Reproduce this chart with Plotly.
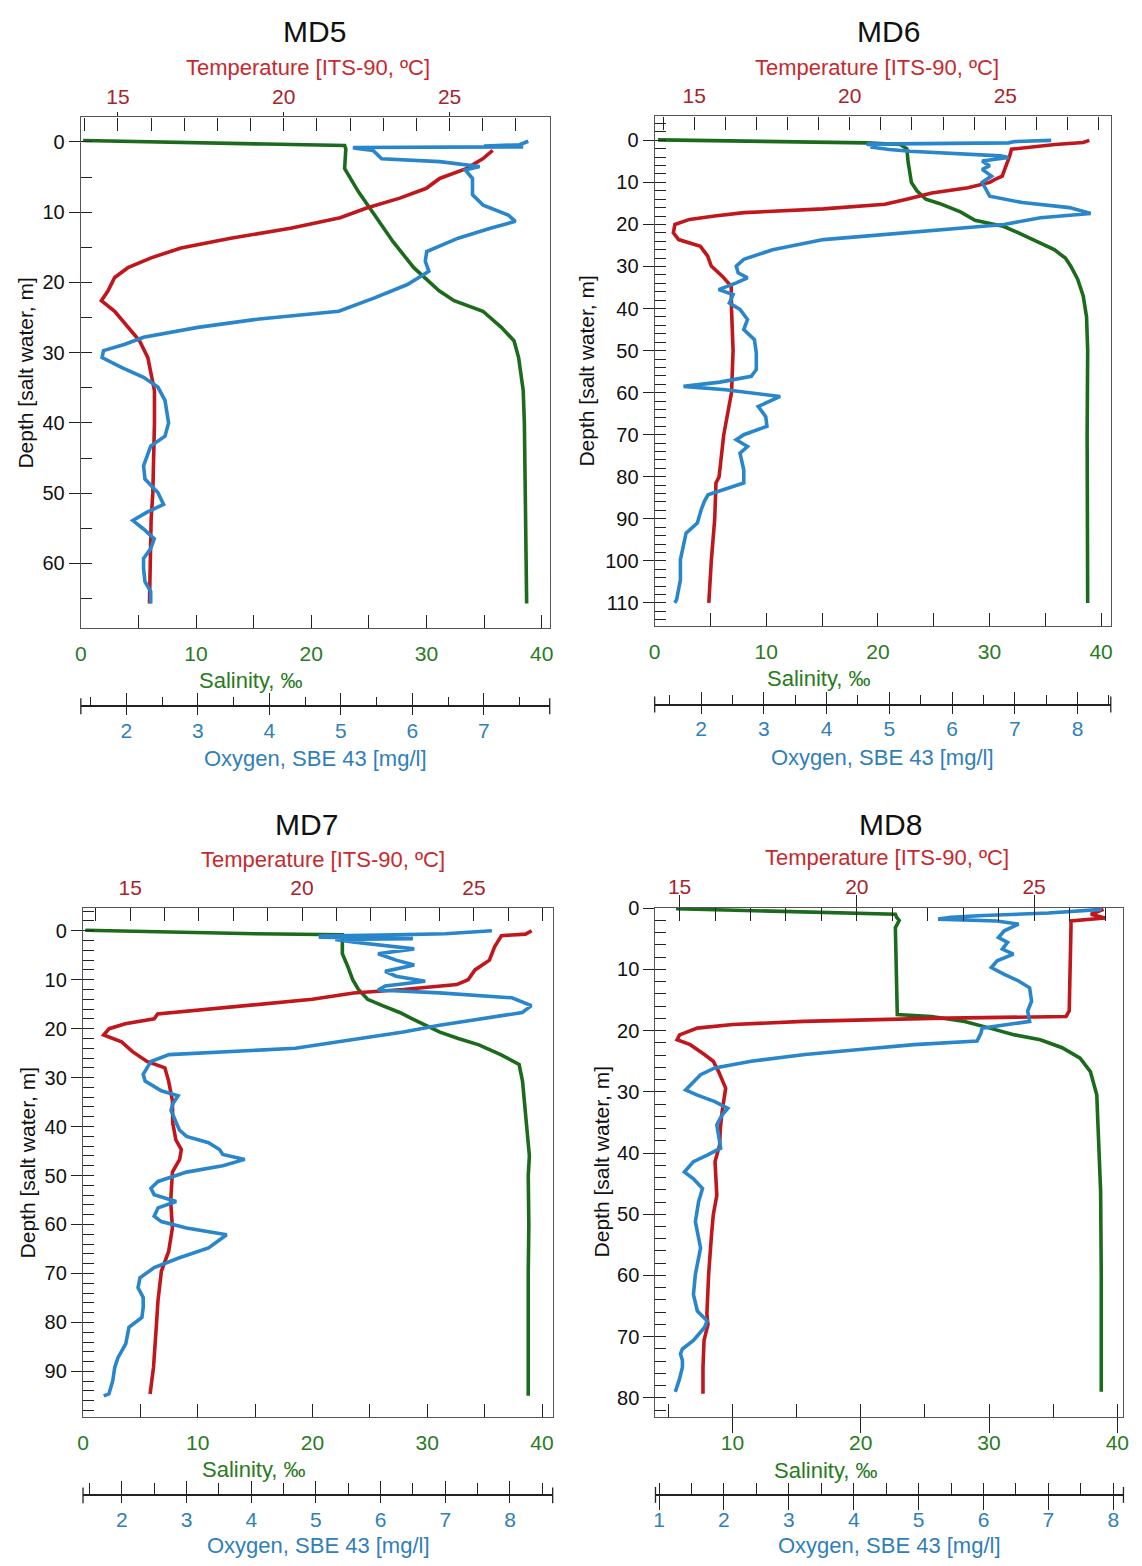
import plotly.graph_objects as go

# page is 1142x1566; the browser adds an 8px body margin, so the figure is 16px smaller
PAGE_W, PAGE_H, OFF = 1142, 1566, 8
W, H = PAGE_W - 2 * OFF, PAGE_H - 2 * OFF

# ---------------- DATA ----------------
STATIONS = ["MD5", "MD6", "MD7", "MD8"]

MD5_TEMP_DEPTH = [1.2, 2.4, 3.8, 5.2, 6.6, 8.0, 9.4, 10.8, 12.3, 13.7, 15.1, 16.5, 17.9, 19.3, 21.2, 22.6,
                  24.1, 26.4, 28.3, 30.7, 33.0, 35.4, 40.0, 50.0, 53.7, 60.0, 65.7]
MD5_TEMP = [26.3, 26.0, 25.5, 24.7, 24.3, 23.5, 22.5, 21.7, 20.2, 18.4, 16.9, 16.0, 15.3, 14.9, 14.7, 14.5,
            14.9, 15.3, 15.65, 15.9, 16.0, 16.1, 16.1, 16.05, 16.0, 15.98, 15.95]
MD5_SAL_DEPTH = [-0.2, 0.1, 0.3, 0.5, 1.0, 3.8, 7.1, 10.4, 14.2, 17.9, 21.2, 22.6, 24.1, 26.4, 28.3, 30.7,
                 35.4, 40.0, 50.0, 60.0, 65.7]
MD5_SAL = [0.2, 8.0, 16.0, 22.9, 23.0, 22.9, 24.1, 25.5, 27.1, 28.9, 31.1, 32.4, 34.9, 36.5, 37.6, 38.0,
           38.4, 38.5, 38.6, 38.65, 38.7]
MD5_OXY_DEPTH = [-0.1, 0.4, 0.6, 0.7, 0.8, 0.9, 1.2, 2.4, 2.8, 3.5, 4.0, 5.2, 7.5, 9.0, 10.4, 11.3, 12.3,
                 13.7, 15.6, 17.0, 18.4, 20.3, 22.2, 24.1, 25.2, 26.4, 27.8, 28.8, 29.7, 30.7, 32.1, 33.5,
                 34.9, 36.8, 40.0, 41.9, 43.3, 46.1, 48.0, 49.9, 51.6, 52.7, 53.9, 55.1, 56.5, 57.9, 59.3,
                 60.7, 62.6, 64.0, 65.7]
MD5_OXY = [7.62, 7.5, 7.0, 7.55, 5.17, 5.2, 5.45, 5.57, 6.38, 6.94, 6.74, 6.84, 6.84, 6.99, 7.34, 7.44, 7.09,
           6.64, 6.2, 6.18, 6.23, 5.93, 5.47, 4.97, 3.86, 3.0, 2.24, 1.98, 1.68, 1.66, 1.93, 2.24,
           2.44, 2.54, 2.59, 2.54, 2.34, 2.24, 2.26, 2.44, 2.52, 2.29, 2.09, 2.24, 2.39, 2.34, 2.24,
           2.24, 2.26, 2.34, 2.34]

MD6_TEMP_DEPTH = [0.0, 0.5, 1.0, 2.1, 3.7, 6.9, 8.5, 9.3, 10.0, 11.3, 12.5, 14.0, 15.2, 16.3, 16.7, 17.2,
                  18.0, 18.8, 20.0, 22.0, 23.6, 25.2, 27.5, 29.9, 32.3, 34.7, 40.2, 50.0, 60.0, 68.0,
                  70.0, 80.0, 81.5, 90.0, 100.0, 110.0]
MD6_TEMP = [27.7, 27.5, 26.6, 25.2, 25.14, 25.0, 24.9, 24.67, 24.5, 23.8, 22.64, 21.83, 21.13, 19.15, 18.0,
            16.6, 15.66, 14.85, 14.38, 14.33, 14.5, 15.2, 15.43, 15.55, 15.9, 16.19, 16.2, 16.25, 16.2, 16.0,
            15.95, 15.8, 15.7, 15.66, 15.55, 15.47]
MD6_SAL_DEPTH = [-0.1, 0.3, 0.6, 1.0, 2.0, 5.0, 8.0, 10.0, 12.0, 14.0, 15.0, 17.0, 19.0, 20.5, 22.0, 24.0,
                 26.0, 28.0, 30.0, 33.0, 37.0, 42.0, 50.0, 70.0, 90.0, 110.0]
MD6_SAL = [0.3, 10.0, 19.0, 22.0, 22.6, 22.7, 22.9, 23.0, 23.5, 24.3, 25.5, 27.4, 28.7, 31.3, 32.6, 34.2,
           35.8, 36.8, 37.3, 37.9, 38.4, 38.7, 38.8, 38.75, 38.8, 38.8]
MD6_OXY_DEPTH = [0.0, 0.3, 0.6, 0.9, 1.3, 1.6, 2.2, 2.6, 3.7, 4.1, 4.9, 6.1, 6.9, 8.5, 10.0, 11.7, 13.3,
                 14.8, 16.0, 17.4, 18.4, 20.0, 22.0, 23.6, 26.0, 28.3, 29.9, 31.5, 32.7, 33.9, 35.5, 36.7,
                 38.7, 40.2, 42.6, 45.0, 47.4, 50.6, 54.5, 56.1, 57.5, 58.1, 58.5, 59.3, 60.9, 63.3, 65.7,
                 68.0, 70.0, 71.2, 72.8, 74.4, 78.4, 81.5, 83.1, 84.3, 85.9, 87.9, 91.0, 93.4, 99.7, 104.5,
                 109.2, 110.0]
MD6_OXY = [7.58, 7.0, 6.9, 4.64, 4.8, 4.7, 5.0, 5.33, 6.77, 6.9, 6.48, 6.6, 6.48, 6.63, 6.48, 6.54, 6.6,
           7.12, 7.87, 8.21, 7.41, 6.83, 5.22, 3.95, 3.14, 2.68, 2.56, 2.59, 2.74, 2.56, 2.28, 2.51,
           2.45, 2.62, 2.74, 2.68, 2.85, 2.88, 2.88, 2.8, 2.3, 1.87, 1.72, 2.39, 3.26, 2.91, 3.03,
           3.05, 2.68, 2.56, 2.74, 2.62, 2.68, 2.68, 2.33, 2.11, 2.05, 2.0, 1.94, 1.76, 1.67, 1.67,
           1.61, 1.58]

MD7_TEMP_DEPTH = [0.0, 0.7, 1.0, 2.0, 3.3, 6.0, 8.0, 10.0, 11.0, 12.0, 12.7, 14.0, 15.0, 16.0, 17.0, 18.0,
                  19.0, 20.0, 21.3, 22.7, 24.7, 26.7, 28.0, 30.7, 34.7, 39.3, 42.7, 44.7, 46.7, 49.3, 55.3,
                  60.7, 65.5, 69.5, 75.6, 81.0, 89.2, 94.6]
MD7_TEMP = [26.68, 26.5, 25.8, 25.7, 25.6, 25.45, 25.03, 24.83, 24.5, 22.95, 21.5, 20.3, 18.75, 17.3, 15.8,
            15.7, 14.86, 14.39, 14.23, 14.75, 15.07, 15.49, 16.01, 16.12, 16.23, 16.24, 16.33, 16.49, 16.44,
            16.23, 16.18, 16.23, 16.12, 15.91, 15.81, 15.76, 15.68, 15.58]
MD7_SAL_DEPTH = [-0.1, 0.3, 0.6, 0.8, 1.3, 4.7, 7.3, 10.0, 12.0, 14.0, 15.3, 16.7, 18.0, 19.3, 20.7, 22.0,
                 23.3, 25.3, 27.3, 30.7, 39.3, 46.0, 50.0, 60.0, 70.0, 80.0, 95.0]
MD7_SAL = [0.2, 8.0, 15.0, 22.6, 22.6, 22.6, 23.07, 23.5, 24.0, 24.8, 26.1, 27.6, 28.7, 29.8, 31.1, 32.7,
           34.5, 36.4, 38.0, 38.3, 38.6, 38.9, 38.8, 38.85, 38.8, 38.8, 38.8]
MD7_OXY_DEPTH = [0.0, 0.6, 0.9, 1.1, 1.3, 1.6, 1.8, 2.3, 3.7, 4.7, 6.0, 7.0, 8.3, 9.3, 10.3, 11.3, 12.1,
                 12.7, 13.7, 15.3, 16.7, 18.0, 19.3, 20.7, 22.3, 24.0, 25.3, 26.7, 28.0, 29.3, 30.7, 32.7,
                 33.7, 35.3, 36.7, 39.3, 40.7, 42.0, 43.3, 44.7, 45.7, 46.7, 48.0, 49.3, 51.2, 52.6, 53.9,
                 55.3, 56.6, 58.3, 59.4, 60.7, 62.1, 64.8, 66.8, 68.8, 70.9, 72.9, 74.9, 77.0, 79.0, 81.0,
                 84.4, 87.2, 89.2, 91.9, 94.6, 95.0]
MD7_OXY = [7.72, 7.0, 6.0, 5.07, 5.07, 6.5, 5.3, 5.57, 6.52, 5.96, 6.24, 6.52, 6.07, 6.24, 6.69, 6.07, 5.96,
           6.91, 8.03, 8.33, 8.19, 7.58, 6.91, 6.35, 5.52, 4.68, 2.73, 2.45, 2.39, 2.33, 2.36, 2.61,
           2.87, 2.79, 2.76, 2.84, 2.89, 3.0, 3.34, 3.51, 3.56, 3.9, 3.56, 3.0, 2.56, 2.45, 2.5,
           2.84, 2.56, 2.5, 2.61, 3.0, 3.62, 3.34, 2.89, 2.5, 2.28, 2.25, 2.33, 2.33, 2.31, 2.11,
           2.06, 1.94, 1.89, 1.86, 1.8, 1.72]

MD8_TEMP_DEPTH = [0.2, 1.0, 1.6, 2.1, 3.2, 8.6, 14.1, 16.8, 17.7, 18.0, 18.5, 19.0, 19.6, 20.7, 21.5, 22.3,
                  23.9, 25.0, 26.7, 29.4, 33.2, 36.0, 38.7, 41.4, 46.9, 50.1, 53.4, 59.8, 66.3, 68.0, 70.6,
                  75.0, 79.3]
MD8_TEMP = [26.96, 26.6, 27.0, 26.04, 26.04, 26.02, 26.01, 25.99, 25.9, 22.1, 18.5, 16.5, 15.5, 15.0, 14.93,
            15.3, 15.7, 15.95, 16.1, 16.3, 16.2, 16.15, 16.13, 16.0, 16.05, 15.95, 15.9, 15.82, 15.77, 15.8,
            15.69, 15.66, 15.66]
MD8_SAL_DEPTH = [0.1, 0.5, 0.8, 1.0, 1.5, 2.0, 3.2, 8.6, 14.1, 17.4, 17.7, 18.5, 19.6, 20.7, 21.5, 22.8,
                 24.5, 26.7, 30.5, 36.0, 46.3, 60.0, 79.0]
MD8_SAL = [5.6, 14.0, 20.0, 22.7, 22.8, 23.0, 22.7, 22.76, 22.76, 22.85, 25.5, 28.1, 30.06, 32.0, 34.0, 35.7,
           37.1, 37.9, 38.4, 38.5, 38.7, 38.75, 38.75]
MD8_OXY_DEPTH = [0.2, 0.8, 1.2, 1.5, 1.8, 2.0, 2.1, 2.6, 3.7, 4.8, 5.6, 6.7, 7.5, 8.6, 9.7, 10.8, 11.9,
                 13.0, 15.2, 16.8, 18.5, 19.6, 20.4, 21.7, 22.3, 23.1, 23.9, 25.0, 26.1, 27.2, 28.3, 29.7,
                 30.5, 31.6, 32.7, 33.8, 35.4, 37.0, 39.2, 40.3, 41.4, 43.1, 44.2, 45.8, 47.9, 51.2, 55.5,
                 59.8, 63.1, 65.8, 67.4, 68.5, 70.6, 72.0, 72.8, 73.9, 75.0, 77.1, 79.0]
MD8_OXY = [7.82, 7.0, 6.0, 5.5, 5.3, 6.0, 6.2, 6.54, 6.32, 6.23, 6.37, 6.29, 6.46, 6.21, 6.12, 6.32, 6.54,
           6.71, 6.74, 6.68, 6.71, 5.98, 5.96, 5.9, 4.93, 4.09, 3.25, 2.42, 1.86, 1.64, 1.53, 1.41,
           1.58, 1.86, 2.06, 1.97, 1.89, 1.92, 1.95, 1.75, 1.53, 1.39, 1.53, 1.67, 1.61, 1.56, 1.64,
           1.56, 1.53, 1.59, 1.74, 1.70, 1.53, 1.36, 1.33, 1.36, 1.36, 1.31, 1.25]

DATA = {
    "MD5": (MD5_TEMP_DEPTH, MD5_TEMP, MD5_SAL_DEPTH, MD5_SAL, MD5_OXY_DEPTH, MD5_OXY),
    "MD6": (MD6_TEMP_DEPTH, MD6_TEMP, MD6_SAL_DEPTH, MD6_SAL, MD6_OXY_DEPTH, MD6_OXY),
    "MD7": (MD7_TEMP_DEPTH, MD7_TEMP, MD7_SAL_DEPTH, MD7_SAL, MD7_OXY_DEPTH, MD7_OXY),
    "MD8": (MD8_TEMP_DEPTH, MD8_TEMP, MD8_SAL_DEPTH, MD8_SAL, MD8_OXY_DEPTH, MD8_OXY),
}

# ---------------- AXIS RANGES / LAYOUT (style) ----------------
RANGES = {
    #        salinity         temperature       oxygen            depth (bottom, top)
    "MD5": ([0.0, 40.7], [13.88, 28.02], [1.363, 7.92], [69.2, -3.5]),
    "MD6": ([0.0, 40.87], [13.73, 28.39], [1.26, 8.53], [115.5, -5.7]),
    "MD7": ([0.0, 40.93], [13.63, 27.29], [1.40, 8.66], [99.3, -4.6]),
    "MD8": ([4.0, 40.48], [14.32, 27.52], [0.945, 8.156], [83.1, -0.1]),
}
DEPTH_MINOR = {"MD5": 5, "MD6": 2, "MD7": 2, "MD8": 2}
# oxygen ticks: major length up, minor length up, major length down
OXY_TICKS = {"MD5": (12, 8, 8), "MD6": (12, 9, 8), "MD7": (14, 12, 7), "MD8": (11, 11, 14)}
# outward part of salinity / temperature major ticks (0 = none)
SAL_OUT = {"MD5": 0, "MD6": 0, "MD7": 0, "MD8": 15}
TEMP_OUT = {"MD5": 4, "MD6": 0, "MD7": 0, "MD8": 12}

# pixel boxes on the page: x0, x1, y0(top), y1(bottom), oxygen-axis y
BOX = {
    "MD5": (75.5, 549, 108, 622, 700.7),
    "MD6": (655, 1115.6, 107, 620, 699),
    "MD7": (77.7, 552, 904, 1416, 1495),
    "MD8": (655.8, 1128.4, 903.3, 1416, 1494.5),
}
# annotation centres (px): title, temp title, salinity title, oxygen title, depth title x
LABELS = {
    "MD5": ((311, 22), (305, 58), (247, 675), (312, 753), 20),
    "MD6": ((891, 22), (880, 58), (821, 673), (885, 752), 586),
    "MD7": ((303, 820), (320, 855), (250, 1469), (315, 1545), 22),
    "MD8": ((893, 820), (890, 853), (828, 1470), (892, 1545), 601),
}

RED, GREEN, BLUE = "#c0171d", "#1c6b1c", "#2a86cb"
RED_TXT, GREEN_TXT, BLUE_TXT = "#c62a2e", "#2a7a1e", "#2f80b8"
RED_TICK = "#a8242a"
AXC = "#555555"
TKC = "#222222"
FONT = "Liberation Sans, Arial, sans-serif"
LW = 3.6


def fx(px):
    return (px - OFF) / W


def fy(py):
    return 1 - (py - OFF) / H


def xid(n):
    return "x" if n == 1 else f"x{n}"


def yid(n):
    return "y" if n == 1 else f"y{n}"


def xkey(n):
    return "xaxis" if n == 1 else f"xaxis{n}"


def ykey(n):
    return "yaxis" if n == 1 else f"yaxis{n}"


fig = go.Figure()
layout = {}
annotations = []
shapes = []

for k, st in enumerate(STATIONS):
    a = 6 * k + 1
    b = 2 * k + 1
    sal_r, tem_r, oxy_r, dep_r = RANGES[st]
    x0, x1, y0, y1, oy = BOX[st]
    tdep, tem, sdep, sal, odep, oxy = DATA[st]
    dom = [fx(x0), fx(x1)]
    o_up, o_minor, o_down = OXY_TICKS[st]

    common = dict(showgrid=False, zeroline=False, fixedrange=True)

    # salinity (bottom of the box)
    layout[xkey(a)] = dict(domain=dom, range=sal_r, anchor=yid(b), side="bottom",
                           showline=True, linecolor=AXC, linewidth=1.3,
                           ticks="inside", ticklen=13, tickwidth=1.3, tickcolor=TKC,
                           tick0=0, dtick=10,
                           minor=dict(tick0=0, dtick=5, ticks="inside", ticklen=13, tickwidth=1.3,
                                      tickcolor=TKC, showgrid=False),
                           tickfont=dict(family=FONT, size=21, color=GREEN_TXT),
                           ticklabelstandoff=7, **common)
    # temperature (top of the box)
    layout[xkey(a + 1)] = dict(domain=dom, range=tem_r, overlaying=xid(a), anchor=yid(b), side="top",
                               showline=True, linecolor=AXC, linewidth=1.3,
                               ticks="inside", ticklen=13, tickwidth=1.3, tickcolor=TKC,
                               tick0=0, dtick=5,
                               minor=dict(tick0=0, dtick=1, ticks="inside", ticklen=13, tickwidth=1.3,
                                          tickcolor=TKC, showgrid=False),
                               tickfont=dict(family=FONT, size=21, color=RED_TICK),
                               ticklabelstandoff=4, **common)
    # oxygen (detached axis below)
    layout[xkey(a + 2)] = dict(domain=dom, range=oxy_r, overlaying=xid(a), anchor="free", position=fy(oy),
                               side="bottom", showline=True, linecolor=TKC, linewidth=1.5,
                               ticks="inside", ticklen=o_up, tickwidth=1.3, tickcolor=TKC,
                               tick0=0, dtick=1,
                               minor=dict(tick0=0, dtick=0.5, ticks="inside", ticklen=o_minor, tickwidth=1.3,
                                          tickcolor=TKC, showgrid=False),
                               tickfont=dict(family=FONT, size=21, color=BLUE_TXT),
                               ticklabelstandoff=6, **common)
    layout[xkey(a + 3)] = dict(domain=dom, range=oxy_r, overlaying=xid(a), anchor="free", position=fy(oy),
                               side="bottom", showline=False, ticks="outside", ticklen=o_down, tickwidth=1.3,
                               tickcolor=TKC, tick0=0, dtick=1, showticklabels=False, **common)
    # outward parts of salinity / temperature major ticks (only where the reference has them)
    layout[xkey(a + 4)] = dict(domain=dom, range=sal_r, overlaying=xid(a), anchor=yid(b), side="bottom",
                               showline=False, ticks="outside" if SAL_OUT[st] else "",
                               ticklen=max(SAL_OUT[st], 1), tickwidth=1.3, tickcolor=TKC,
                               tick0=0, dtick=10, showticklabels=False, **common)
    layout[xkey(a + 5)] = dict(domain=dom, range=tem_r, overlaying=xid(a), anchor=yid(b), side="top",
                               showline=False, ticks="outside" if TEMP_OUT[st] else "",
                               ticklen=max(TEMP_OUT[st], 1), tickwidth=1.3, tickcolor=TKC,
                               tick0=0, dtick=5, showticklabels=False, **common)
    # depth
    layout[ykey(b)] = dict(domain=[fy(y1), fy(y0)], range=dep_r, anchor=xid(a), side="left",
                           showline=True, mirror=True, linecolor=AXC, linewidth=1.3,
                           ticks="outside", ticklen=11, tickwidth=1.3, tickcolor=TKC,
                           tick0=0, dtick=10,
                           tickfont=dict(family=FONT, size=20, color="#111111"), **common)
    layout[ykey(b + 1)] = dict(range=dep_r, overlaying=yid(b), anchor=xid(a), side="left",
                               showline=False, ticks="inside", ticklen=11, tickwidth=1.3, tickcolor=TKC,
                               tick0=0, dtick=DEPTH_MINOR[st], showticklabels=False, **common)

    # end caps of the detached oxygen axis
    for dx in (0, 1):
        shapes.append(dict(type="line", xref=f"{xid(a + 2)} domain", yref="paper",
                           x0=dx, x1=dx, y0=fy(oy - 8), y1=fy(oy + 8),
                           line=dict(color=TKC, width=1.3)))

    fig.add_trace(go.Scatter(x=sal, y=sdep, xaxis=xid(a), yaxis=yid(b), mode="lines",
                             line=dict(color=GREEN, width=LW), showlegend=False, hoverinfo="skip"))
    fig.add_trace(go.Scatter(x=tem, y=tdep, xaxis=xid(a + 1), yaxis=yid(b), mode="lines",
                             line=dict(color=RED, width=LW), showlegend=False, hoverinfo="skip"))
    fig.add_trace(go.Scatter(x=oxy, y=odep, xaxis=xid(a + 2), yaxis=yid(b), mode="lines",
                             line=dict(color=BLUE, width=LW), showlegend=False, hoverinfo="skip"))
    # empty traces so the helper tick axes are instantiated
    for hx in (a + 3, a + 4, a + 5):
        fig.add_trace(go.Scatter(x=[], y=[], xaxis=xid(hx), yaxis=yid(b), showlegend=False))
    fig.add_trace(go.Scatter(x=[], y=[], xaxis=xid(a), yaxis=yid(b + 1), showlegend=False))

    (tx, ty), (ttx, tty), (sx, sy), (ox_, oy_), dx_ = LABELS[st]
    annotations += [
        dict(text=st, x=fx(tx), y=fy(ty), font=dict(family=FONT, size=30, color="#111111")),
        dict(text="Temperature [ITS-90, ºC]", x=fx(ttx), y=fy(tty),
             font=dict(family=FONT, size=22, color=RED_TXT)),
        dict(text="Salinity, ‰", x=fx(sx), y=fy(sy), font=dict(family=FONT, size=22, color=GREEN_TXT)),
        dict(text="Oxygen, SBE 43 [mg/l]", x=fx(ox_), y=fy(oy_),
             font=dict(family=FONT, size=22, color=BLUE_TXT)),
        dict(text="Depth [salt water, m]", x=fx(dx_), y=fy((y0 + y1) / 2), textangle=-90,
             font=dict(family=FONT, size=21, color="#111111")),
    ]

for an in annotations:
    an.update(xref="paper", yref="paper", showarrow=False, xanchor="center", yanchor="middle")

fig.update_layout(width=W, height=H, autosize=False, margin=dict(l=0, r=0, t=0, b=0),
                  paper_bgcolor="white", plot_bgcolor="white", showlegend=False,
                  annotations=annotations, shapes=shapes, font=dict(family=FONT), **layout)

fig.write_html("out.html")
